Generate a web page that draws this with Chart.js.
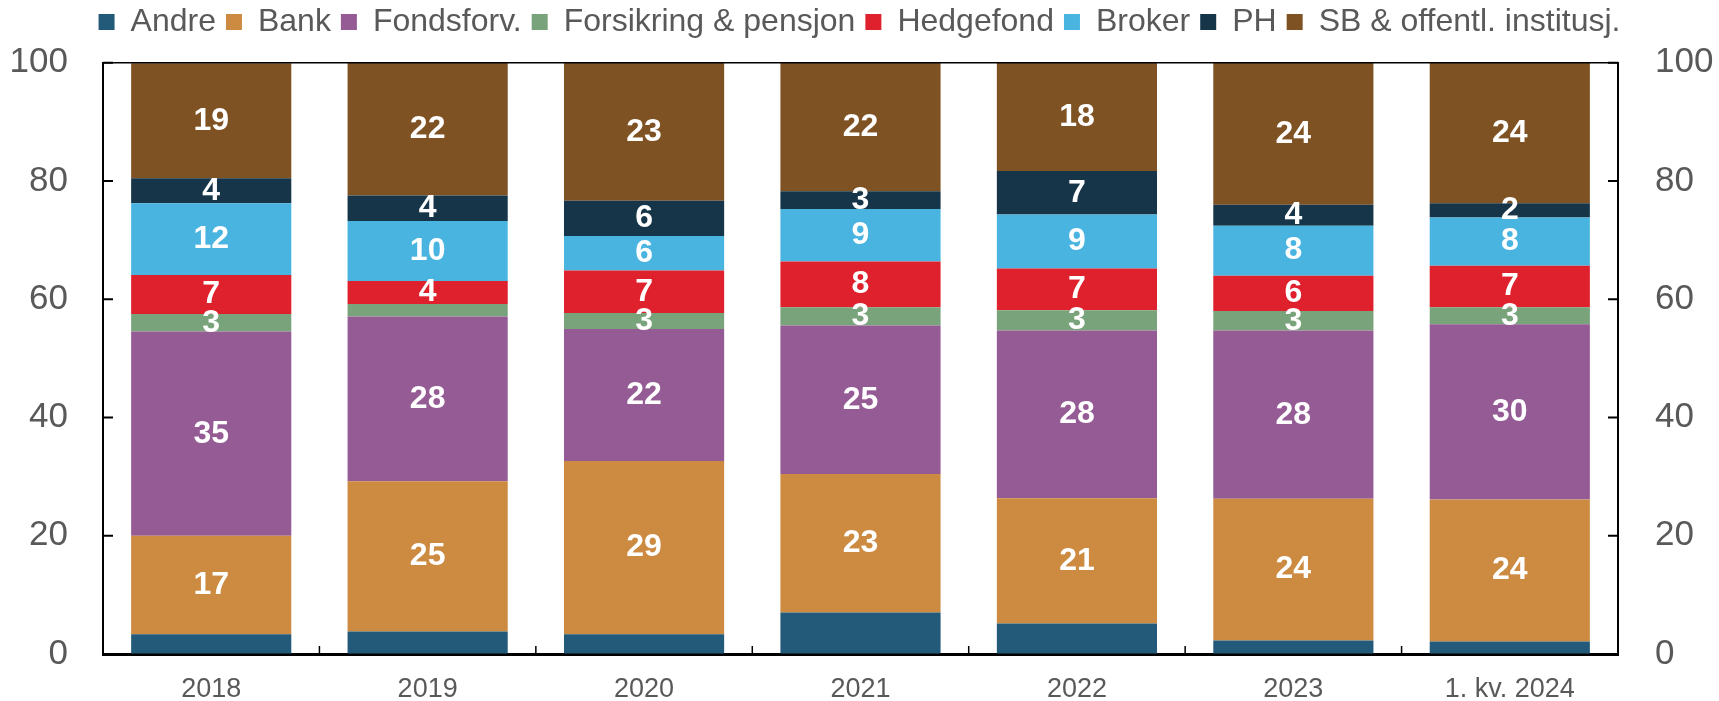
<!DOCTYPE html>
<html lang="no">
<head>
    <meta charset="UTF-8">
    <title>Eierandeler etter investortype</title>
    <script src="https://cdn.jsdelivr.net/npm/chart.js"></script>
    <style>
        body {
            margin: 0;
            padding: 0;
            background: #fff;
        }

        #wrap {
            width: 1719px;
            height: 701px;
            position: relative;
        }
    </style>
</head>
<body>
    <div id="wrap">
        <canvas id="chart"></canvas>
    </div>

    <script>
        // Categories
        const years = ['2018', '2019', '2020', '2021', '2022', '2023', '1. kv. 2024'];

        // Shares per investor type (percent)
        const andre      = [3.36, 3.80, 3.36, 7.02, 5.16, 2.29, 2.11];
        const bank       = [16.62, 25.43, 29.30, 23.44, 21.20, 23.95, 24.01];
        const fondsforv  = [34.55, 27.83, 22.32, 25.08, 28.33, 28.45, 29.65];
        const forsikring = [2.98, 2.14, 2.70, 3.11, 3.45, 3.33, 2.88];
        const hedgefond  = [6.60, 3.89, 7.16, 7.71, 7.05, 5.97, 7.03];
        const broker     = [12.12, 10.15, 5.86, 8.91, 9.13, 8.45, 8.12];
        const ph         = [4.22, 4.28, 5.97, 2.98, 7.37, 3.55, 2.45];
        const sb         = [19.45, 22.48, 23.33, 21.75, 18.31, 24.01, 23.75];

        // Axis range
        const yMin = 0;
        const yMax = 100;
        const yStep = 20;

        const FONT = '"Liberation Sans", Arial, sans-serif';
        const GREY = '#595959';

        const series = [
            { label: 'Andre', data: andre, color: '#235a79', showLabels: false },
            { label: 'Bank', data: bank, color: '#cd8b42', showLabels: true },
            { label: 'Fondsforv.', data: fondsforv, color: '#955b95', showLabels: true },
            { label: 'Forsikring & pensjon', data: forsikring, color: '#79a37b', showLabels: true },
            { label: 'Hedgefond', data: hedgefond, color: '#df202d', showLabels: true },
            { label: 'Broker', data: broker, color: '#4ab4e1', showLabels: true },
            { label: 'PH', data: ph, color: '#163549', showLabels: true },
            { label: 'SB & offentl. institusj.', data: sb, color: '#7f5224', showLabels: true }
        ];

        // white value labels in the middle of each segment
        const segmentLabels = {
            id: 'segmentLabels',
            afterDatasetsDraw(chart) {
                const ctx = chart.ctx;
                ctx.save();
                ctx.fillStyle = '#fff';
                ctx.font = 'bold 32px ' + FONT;
                ctx.textAlign = 'center';
                ctx.textBaseline = 'middle';
                chart.data.datasets.forEach((ds, di) => {
                    if (!series[di].showLabels) return;
                    const meta = chart.getDatasetMeta(di);
                    meta.data.forEach((bar, i) => {
                        const v = ds.data[i];
                        if (v < 2.3) return;
                        const p = bar.getProps(['x', 'y', 'base'], true);
                        ctx.fillText(Math.round(v), p.x, (p.y + p.base) / 2);
                    });
                });
                ctx.restore();
            }
        };

        // top frame line and inward tick marks
        const frame = {
            id: 'frame',
            afterDraw(chart) {
                const { ctx, chartArea: a, scales } = chart;
                ctx.save();
                ctx.strokeStyle = '#000';
                ctx.lineWidth = 1.5;
                ctx.beginPath();
                ctx.moveTo(a.left, a.top);
                ctx.lineTo(a.right, a.top);
                ctx.stroke();

                ctx.lineWidth = 2;
                ctx.beginPath();
                scales.y.ticks.forEach(t => {
                    const y = scales.y.getPixelForValue(t.value);
                    ctx.moveTo(a.left, y);
                    ctx.lineTo(a.left + 10, y);
                    ctx.moveTo(a.right, y);
                    ctx.lineTo(a.right - 10, y);
                });
                ctx.stroke();

                ctx.lineWidth = 1.5;
                ctx.beginPath();
                for (let i = 1; i < years.length; i++) {
                    const x = (scales.x.getPixelForValue(i - 1) + scales.x.getPixelForValue(i)) / 2;
                    ctx.moveTo(x, a.bottom);
                    ctx.lineTo(x, a.bottom - 8);
                }
                ctx.stroke();
                ctx.restore();
            }
        };

        const yTicks = {
            color: GREY,
            font: { family: FONT, size: 35 },
            stepSize: yStep,
            padding: 0
        };

        // invisible tick marks push the labels away from the axis
        function yGrid(len) {
            return {
                drawOnChartArea: false,
                drawTicks: true,
                tickLength: len,
                tickColor: 'rgba(0,0,0,0)'
            };
        }

        new Chart(document.getElementById('chart'), {
            type: 'bar',
            data: {
                labels: years,
                datasets: series.map(s => ({
                    label: s.label,
                    data: s.data,
                    backgroundColor: s.color,
                    borderWidth: 0,
                    barPercentage: 0.74,
                    categoryPercentage: 1.0
                }))
            },
            options: {
                responsive: true,
                maintainAspectRatio: false,
                animation: false,
                devicePixelRatio: 1,
                layout: {
                    padding: { top: -4, left: 0, right: 0, bottom: 0 }
                },
                plugins: {
                    legend: {
                        position: 'top',
                        weight: 3000,
                        labels: {
                            color: GREY,
                            font: { family: FONT, size: 32 },
                            boxWidth: 16,
                            boxHeight: 16,
                            padding: 10
                        }
                    },
                    // empty title used as a spacer between legend and plot
                    title: {
                        display: true,
                        text: '',
                        font: { size: 10, lineHeight: 1 },
                        padding: { top: 0, bottom: 4.7 }
                    },
                    tooltip: { enabled: false }
                },
                scales: {
                    x: {
                        stacked: true,
                        grid: { drawOnChartArea: false, drawTicks: false },
                        border: { display: true, color: '#000', width: 3 },
                        ticks: {
                            color: GREY,
                            font: { family: FONT, size: 27 },
                            padding: 19,
                            maxRotation: 0,
                            autoSkip: false
                        },
                        afterFit(scale) { scale.height = 47; }
                    },
                    y: {
                        stacked: true,
                        position: 'left',
                        min: yMin,
                        max: yMax,
                        grid: yGrid(35),
                        border: { display: true, color: '#000', width: 2 },
                        ticks: yTicks,
                        afterFit(scale) { scale.width = 103; }
                    },
                    y2: {
                        position: 'right',
                        min: yMin,
                        max: yMax,
                        grid: yGrid(37),
                        border: { display: true, color: '#000', width: 2 },
                        ticks: yTicks,
                        afterFit(scale) { scale.width = 101; }
                    }
                }
            },
            plugins: [segmentLabels, frame]
        });
    </script>
</body>
</html>
